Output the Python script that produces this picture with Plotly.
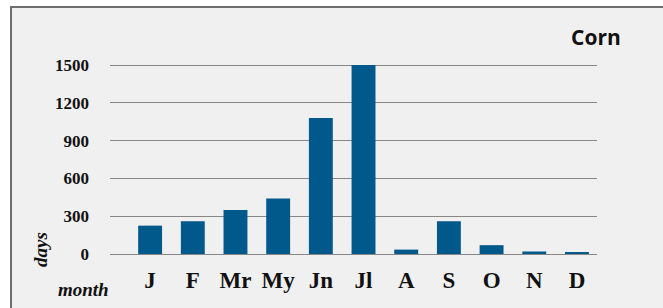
import plotly.graph_objects as go

months = ["J", "F", "Mr", "My", "Jn", "Jl", "A", "S", "O", "N", "D"]
days = [225, 260, 350, 440, 1080, 1500, 35, 260, 70, 20, 10]
y_ticks = [0, 300, 600, 900, 1200, 1500]

W, H = 663, 308
ml, mr, mt, mb = 110, 66, 63, 54
pw, ph = W - ml - mr, H - mt - mb

def px_to_paper_x(x):
    return (x - ml) / pw

def px_to_paper_y(y):
    return (H - mb - y) / ph

fig = go.Figure(go.Bar(
    x=list(range(len(months))), y=days,
    marker=dict(color="#01588A", line=dict(width=0)),
    width=0.56,
))

fig.update_layout(
    width=W, height=H,
    margin=dict(l=ml, r=mr, t=mt, b=mb, pad=0),
    paper_bgcolor="white",
    plot_bgcolor="#F0F0F0",
    showlegend=False,
    xaxis=dict(
        range=[-0.94, 10.47],
        tickmode="array",
        tickvals=list(range(len(months))),
        ticktext=[f"<b>{m}</b>" for m in months],
        showgrid=False, zeroline=False, showline=False, ticks="",
        tickfont=dict(family="Liberation Serif", size=23, color="#111111"),
        ticklabelstandoff=10,
    ),
    yaxis=dict(
        range=[0, 1516],
        tickmode="array",
        tickvals=y_ticks,
        ticktext=[f"<b>{v}</b>" for v in y_ticks],
        showgrid=True, gridcolor="#878787", gridwidth=1.3,
        zeroline=True, zerolinecolor="#878787", zerolinewidth=1.3,
        showline=False, ticks="",
        tickfont=dict(family="Liberation Serif", size=17, color="#111111"),
        ticklabelstandoff=20,
    ),
    shapes=[
        dict(type="rect", xref="paper", yref="paper",
             x0=px_to_paper_x(11), x1=px_to_paper_x(680),
             y0=px_to_paper_y(320), y1=px_to_paper_y(7),
             fillcolor="#F0F0F0", line=dict(color="#6E6E6E", width=2),
             layer="below"),
    ],
    annotations=[
        dict(text="<b>Corn</b>", xref="paper", yref="paper",
             x=px_to_paper_x(596), y=px_to_paper_y(37),
             xanchor="center", yanchor="middle", showarrow=False,
             font=dict(family="Open Sans", size=21, color="#111111")),
        dict(text="<b><i>days</i></b>", xref="paper", yref="paper",
             x=px_to_paper_x(40), y=px_to_paper_y(250),
             xanchor="center", yanchor="middle", showarrow=False,
             textangle=-90,
             font=dict(family="Liberation Serif", size=19, color="#111111")),
        dict(text="<b><i>month</i></b>", xref="paper", yref="paper",
             x=px_to_paper_x(83), y=px_to_paper_y(289),
             xanchor="center", yanchor="middle", showarrow=False,
             font=dict(family="Liberation Serif", size=19, color="#111111")),
    ],
)

fig.write_html("out.html", config={"displayModeBar": False},
               post_script="document.body.style.margin='0';")
